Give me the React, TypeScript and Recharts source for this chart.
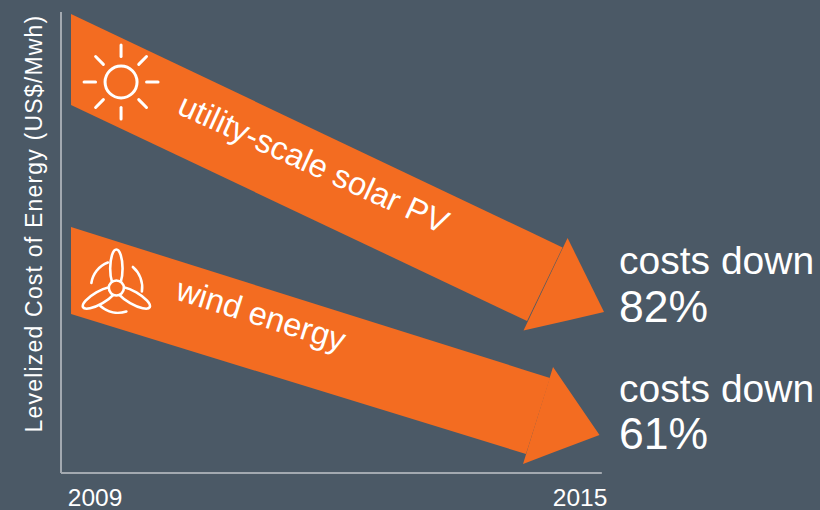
import React from "react";
import { ComposedChart, Area, XAxis, YAxis, ReferenceDot, ReferenceLine } from "recharts";

const BG = "#4b5966";
const ORANGE = "#f36c21";
const AXIS = "#a3a9b0";
const FONT = "'Liberation Sans', sans-serif";

const yearTicks = [2009, 2015];
const yLabel = "Levelized Cost of Energy (US$/Mwh)";

// x = year, low/high = cost band
const solarShaftX = [2008.703, 2014.345, 2014.784];
const solarShaftLow = [368, 152, 225.5];
const solarShaftHigh = [459, 242.4, 225.5];
const solarHeadX = [2014.301, 2014.846, 2015.297];
const solarHeadLow = [142.5, 152.6, 161];
const solarHeadHigh = [142.5, 235, 161];

const windShaftX = [2008.703, 2014.332, 2014.629];
const windShaftLow = [159, 19, 95];
const windShaftHigh = [246, 102.6, 95];
const windHeadX = [2014.295, 2014.666, 2015.241];
const windHeadLow = [9, 20.4, 38];
const windHeadHigh = [9, 106, 38];

const solarName = "utility-scale solar PV";
const windName = "wind energy";
const costsLabel = "costs down";
const solarDrop = "82%";
const windDrop = "61%";

const table = (xs: number[], lows: number[], highs: number[]) =>
  xs.map((x, i) => ({ x, range: [lows[i], highs[i]] }));

const Sun = ({ cx, cy }: any) => {
  const rays = [0, 45, 90, 135, 180, 225, 270, 315];
  return (
    <g transform={`translate(${cx},${cy})`} stroke="#fff" strokeWidth={3} strokeLinecap="round" fill="none">
      <circle r={16} />
      {rays.map((a) => (
        <line key={a} x1={0} y1={a % 90 === 0 ? -25.5 : -25} x2={0} y2={a % 90 === 0 ? -37 : -36} transform={`rotate(${a})`} />
      ))}
    </g>
  );
};

const Turbine = ({ cx, cy }: any) => (
  <g transform={`translate(${cx},${cy})`} stroke="#fff" strokeWidth={2.6} strokeLinecap="round" fill="none">
    {[0, 120, 240].map((a) => (
      <ellipse key={a} cx={0} cy={-19.5} rx={6.2} ry={19} transform={`rotate(${a})`} />
    ))}
    <circle r={7.5} fill={ORANGE} />
    <path d="M -25 -5 A 26 26 0 0 1 -8.5 -25.5" />
    <path d="M 16.5 -21 A 27 27 0 0 1 25.5 3.5" />
    <path d="M -16 18 A 27 27 0 0 0 10 23.5" />
  </g>
);

const label = (text: string, size: number, angle: number, spacing = 0) => ({ cx, cy }: any) => (
  <text
    x={cx}
    y={cy}
    fill="#fff"
    fontSize={size}
    fontFamily={FONT}
    letterSpacing={spacing}
    transform={angle ? `rotate(${angle} ${cx} ${cy})` : undefined}
  >
    {text}
  </text>
);

export default function App() {
  return (
    <div style={{ position: "absolute", left: 0, top: 0, width: 820, height: 510, background: BG, overflow: "hidden" }}>
      <ComposedChart width={820} height={510} margin={{ top: 12, right: 215, bottom: 0, left: 0 }}>
        <XAxis
          type="number"
          dataKey="x"
          domain={[2008.579, 2015.309]}
          ticks={yearTicks}
          tickFormatter={(v: number) => String(v)}
          height={37}
          axisLine={false}
          tickLine={false}
          tickMargin={10}
          tick={{ fill: "#fff", fontSize: 24.5, fontFamily: FONT }}
        />
        <YAxis
          type="number"
          domain={[0, 461]}
          width={61}
          tick={false}
          tickLine={false}
          axisLine={{ stroke: AXIS, strokeWidth: 2 }}
          label={{
            value: yLabel,
            angle: -90,
            position: "insideLeft",
            dx: 29,
            dy: 190,
            fill: "#fff",
            fontSize: 23,
            letterSpacing: 1.2,
            fontFamily: FONT,
          }}
        />
        <ReferenceLine
          segment={[{ x: 2008.579, y: 0 }, { x: 2015.27, y: 0 }]}
          stroke={AXIS}
          strokeWidth={2}
          ifOverflow="visible"
        />
        <Area data={table(solarShaftX, solarShaftLow, solarShaftHigh)} dataKey="range" type="linear" fill={ORANGE} fillOpacity={1} stroke="none" dot={false} activeDot={false} isAnimationActive={false} />
        <Area data={table(solarHeadX, solarHeadLow, solarHeadHigh)} dataKey="range" type="linear" fill={ORANGE} fillOpacity={1} stroke="none" dot={false} activeDot={false} isAnimationActive={false} />
        <Area data={table(windShaftX, windShaftLow, windShaftHigh)} dataKey="range" type="linear" fill={ORANGE} fillOpacity={1} stroke="none" dot={false} activeDot={false} isAnimationActive={false} />
        <Area data={table(windHeadX, windHeadLow, windHeadHigh)} dataKey="range" type="linear" fill={ORANGE} fillOpacity={1} stroke="none" dot={false} activeDot={false} isAnimationActive={false} />
        <ReferenceDot x={2009.322} y={391} ifOverflow="visible" shape={Sun} />
        <ReferenceDot x={2009.264} y={185} ifOverflow="visible" shape={Turbine} />
        <ReferenceDot x={2010.0} y={360} ifOverflow="visible" shape={label(solarName, 32.5, 24.5)} />
        <ReferenceDot x={2009.98} y={174} ifOverflow="visible" shape={label(windName, 32.5, 17.5)} />
        <ReferenceDot x={2015.483} y={199} ifOverflow="visible" shape={label(costsLabel, 39, 0)} />
        <ReferenceDot x={2015.483} y={151} ifOverflow="visible" shape={label(solarDrop, 44.5, 0)} />
        <ReferenceDot x={2015.483} y={71} ifOverflow="visible" shape={label(costsLabel, 39, 0)} />
        <ReferenceDot x={2015.483} y={24} ifOverflow="visible" shape={label(windDrop, 44.5, 0)} />
      </ComposedChart>
    </div>
  );
}
